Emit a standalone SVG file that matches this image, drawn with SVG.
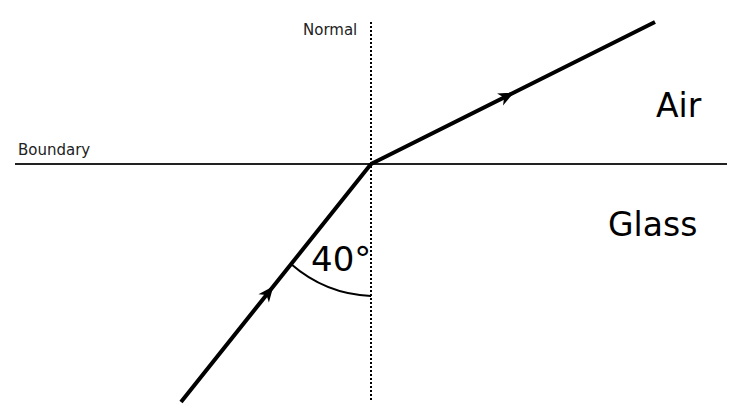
<svg xmlns="http://www.w3.org/2000/svg" width="736" height="412" viewBox="0 0 736 412">
<style>
.ray{fill:none;stroke:#000;stroke-width:4;stroke-linecap:butt;marker-mid:url(#arr)}
.lbl{font-family:"DejaVu Sans",sans-serif;fill:#000}
.small{font-size:15px;fill:#222}
.big{font-size:33px}
</style>
<defs>
<marker id="arr" markerUnits="userSpaceOnUse" orient="auto" markerWidth="20" markerHeight="20" refX="0" refY="0" viewBox="-14 -8 18 16" overflow="visible">
<path d="M2,0 L-12,-6 L-8,0 L-12,6 Z" fill="#000"/>
</marker>
</defs>
<rect width="736" height="412" fill="#fff"/>
<g id="boundary"><line x1="15" y1="164" x2="727" y2="164" stroke="#222" stroke-width="2"/><text class="lbl small" x="18" y="155">Boundary</text></g>
<g id="normal"><line x1="371" y1="22" x2="371" y2="401" stroke="#000" stroke-width="2" stroke-dasharray="2,2"/><text class="lbl small" x="303" y="35">Normal</text></g>
<g id="angle"><path d="M291,264 A130,130 0 0 0 371,296" fill="none" stroke="#000" stroke-width="2"/><text class="lbl big" x="311" y="271" style="font-size:34px">40°</text></g>
<g id="air"><text class="lbl big" x="656" y="117">Air</text></g>
<g id="glass"><text class="lbl big" x="608" y="236">Glass</text></g>
<g id="connectors">
<polyline class="ray" points="181,402 272,288 371,164"/>
<polyline class="ray" points="371,164 512,93.5 655,22"/>
</g>
</svg>
